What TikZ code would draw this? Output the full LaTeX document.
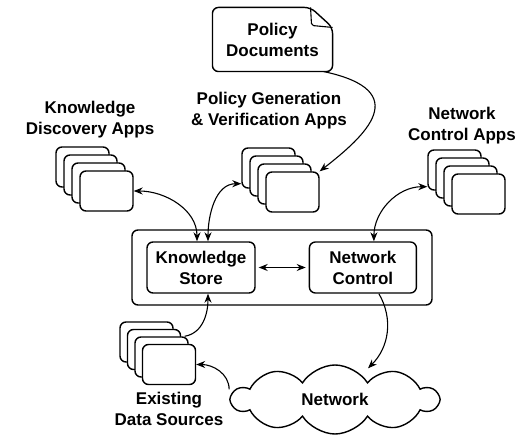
\documentclass[tikz,border=0pt]{standalone}
\usepackage{fontspec}
\setmainfont{Liberation Sans}
\usetikzlibrary{positioning,arrows.meta,shapes.symbols}

\begin{document}
\begin{tikzpicture}[x=1pt,y=1pt,
			font=\fontsize{17}{21}\selectfont\bfseries,
			>={Stealth[length=9pt,width=7pt]},
			card/.style={draw,rounded corners=6pt,fill=white,line width=1.4pt,minimum width=53pt,minimum height=40pt},
			block/.style={draw,rounded corners=6pt,line width=1.4pt,align=center,inner sep=0pt},
			caption/.style={align=center,inner sep=0pt},
			line width=1.1pt]
			\useasboundingbox (0,0) rectangle (524,436);

			\node (doc) [caption,minimum width=119pt,minimum height=63pt] at (272.5,396.5) {Policy\\Documents};
			\draw[line width=1.4pt,rounded corners=6pt] ([xshift=-22pt]doc.north east) -- (doc.north west) -- (doc.south west) -- (doc.south east) -- ([yshift=-20pt]doc.north east) -- cycle;
			\draw[line width=1.1pt,rounded corners=2pt] ([xshift=-22pt]doc.north east) -- ([xshift=-21pt,yshift=-18pt]doc.north east) -- ([yshift=-20pt]doc.north east);

			\node (kdlabel) [caption] at (90,316) {Knowledge\\Discovery Apps};
			\node (pglabel) [caption] at (269,325) {Policy Generation\\\& Verification Apps};
			\node (ncalabel) [caption] at (462,310.5) {Network\\Control Apps};
			\node (edlabel) [caption] at (169,27) {Existing\\Data Sources};

			\foreach \i in {0,...,3} {
				\node (kd\i) [card] at (82.5+8*\i,269-8*\i) {};
				\node (pg\i) [card] at (268.5+8*\i,268-8*\i) {};
				\node (nca\i) [card] at (454.5+8*\i,266-8*\i) {};
				\node (ed\i) [card] at (146.5+7.5*\i,94-7.5*\i) {};
			}

			\node (core) [block,minimum width=300pt,minimum height=75pt] at (282,168.5) {};
			\node (ks) [block,minimum width=108pt,minimum height=51pt] at (201,168.5) {Knowledge\\Store};
			\node (nc) [block,minimum width=107pt,minimum height=51pt,right=53pt of ks] {Network\\Control};

			\node (net) [cloud,draw,line width=1.4pt,cloud puffs=10,cloud puff arc=115,aspect=3,minimum width=206pt,minimum height=69pt,inner sep=0pt] at (335,36.5) {Network};

			\draw[<->] (kd3.east) to[out=0,in=90] ([xshift=-4pt]ks.north);
			\draw[<->] ([yshift=5pt]pg0.south west) to[out=180,in=90] ([xshift=7pt]ks.north);
			\draw[<->,shorten <=3pt,shorten >=3pt] (ks) -- (nc);
			\draw[<->] ([xshift=11pt]nc.north) to[out=90,in=180] ([yshift=4pt]nca0.south west);
			\draw[->] ([xshift=-9pt]doc.south east) .. controls (415,345) and (365,300) .. (pg3.north east);
			\draw[->] ([xshift=16pt]nc.south) to[out=-60,in=45] ([xshift=33pt,yshift=-4pt]net.north);
			\draw[->] ([xshift=-4pt]ed2.north east) to[out=10,in=-90] ([xshift=7pt]ks.south);
			\draw[->] ([yshift=10pt]net.west) to[out=90,in=0] (ed3.east);
		\end{tikzpicture}
\end{document}
